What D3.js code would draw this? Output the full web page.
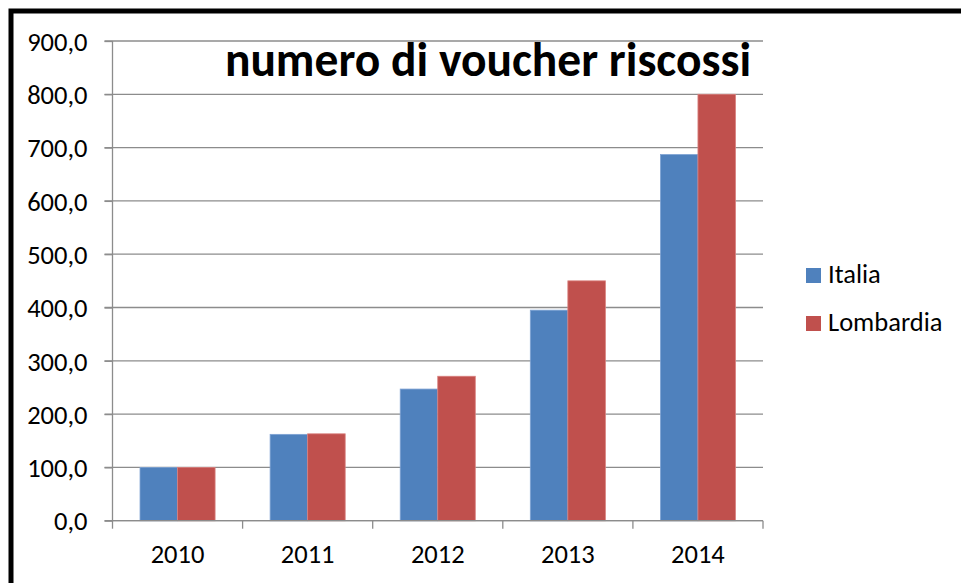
<!DOCTYPE html>
<html><head><meta charset="utf-8">
<script src="https://cdn.jsdelivr.net/npm/d3@7"></script>
<style>body{margin:0;background:#fff}svg{display:block}</style>
</head><body>
<svg id="c" width="961" height="583"></svg>
<script>
const categories = ["2010","2011","2012","2013","2014"];
const seriesNames = ["Italia","Lombardia"];
const italia = [100, 162, 247, 395, 687];
const lombardia = [100, 163, 271, 450, 800];
const yTicks = [0,100,200,300,400,500,600,700,800,900];
const colors = ["#4F81BD","#C0504D"];
const strokes = ["#7FA3D4","#D9807E"];
const title = "numero di voucher riscossi";

(function(){
const svg = d3.select("#c");
const font = "Carlito, Calibri, 'Open Sans', 'Liberation Sans', sans-serif";
const fs = 26.5;

// outer border
svg.append("rect").attr("x",11).attr("y",11).attr("width",1000).attr("height",700)
  .attr("fill","none").attr("stroke","#000").attr("stroke-width",5);

const pLeft=112.5, pRight=763, pTop=41, pBottom=520.7;
const x = d3.scaleBand().domain(categories).range([pLeft,pRight]).paddingInner(0).paddingOuter(0);
const y = d3.scaleLinear().domain([0,900]).range([pBottom,pTop]);
const inner = d3.scaleBand().domain(seriesNames).range([0,x.bandwidth()]).paddingInner(0).paddingOuter(0.733);

// gridlines
svg.append("g").selectAll("line").data(yTicks).join("line")
  .attr("x1",pLeft-8).attr("x2",pRight).attr("y1",d=>y(d)).attr("y2",d=>y(d))
  .attr("stroke","#8c8c8c").attr("stroke-width",1.3);

// bars
const data = [italia, lombardia];
seriesNames.forEach((s,si)=>{
  svg.append("g").selectAll("rect").data(categories).join("rect")
    .attr("x",c=>x(c)+inner(s))
    .attr("width",inner.bandwidth())
    .attr("y",(c,i)=>y(data[si][i]))
    .attr("height",(c,i)=>y(0)-y(data[si][i]))
    .attr("fill",colors[si]).attr("stroke",strokes[si]).attr("stroke-width",0.8);
});

// axes
const yAxis = svg.append("g").attr("transform",`translate(${pLeft},0)`)
  .call(d3.axisLeft(y).tickValues(yTicks).tickSize(8).tickFormat(d=>d3.format(".1f")(d).replace(".",",")));
yAxis.select(".domain").attr("stroke","#8c8c8c").attr("stroke-width",1.3).attr("d",`M0,${pTop}V${pBottom}`);
yAxis.selectAll(".tick line").attr("stroke","#8c8c8c").attr("stroke-width",1.3);
yAxis.selectAll(".tick text").attr("x",-25).attr("dy","0.35em").attr("font-size",fs).attr("font-family",font).attr("fill","#000");

const boundaries = categories.map(c=>x(c)).concat([pRight]);
const xg = svg.append("g");
xg.append("line").attr("x1",pLeft).attr("x2",pRight).attr("y1",pBottom).attr("y2",pBottom)
  .attr("stroke","#8c8c8c").attr("stroke-width",1.3);
xg.selectAll("line.t").data(boundaries).join("line").attr("class","t")
  .attr("x1",d=>d).attr("x2",d=>d).attr("y1",pBottom).attr("y2",pBottom+8)
  .attr("stroke","#8c8c8c").attr("stroke-width",1.3);
xg.selectAll("text").data(categories).join("text")
  .attr("x",c=>x(c)+x.bandwidth()/2).attr("y",563)
  .attr("text-anchor","middle").attr("font-size",fs).attr("font-family",font).attr("fill","#000")
  .text(c=>c);

// title
svg.append("text").attr("x",488).attr("y",76).attr("text-anchor","middle")
  .attr("font-size",47.5).attr("font-weight","bold").attr("font-family",font).attr("fill","#000")
  .text(title);

// legend
const lg = svg.append("g");
seriesNames.forEach((s,i)=>{
  lg.append("rect").attr("x",806).attr("y",268+i*48).attr("width",15).attr("height",15).attr("fill",colors[i]);
  lg.append("text").attr("x",828).attr("y",283+i*48).attr("font-size",fs).attr("font-family",font).attr("fill","#000").text(s);
});
})();
</script>
</body></html>
